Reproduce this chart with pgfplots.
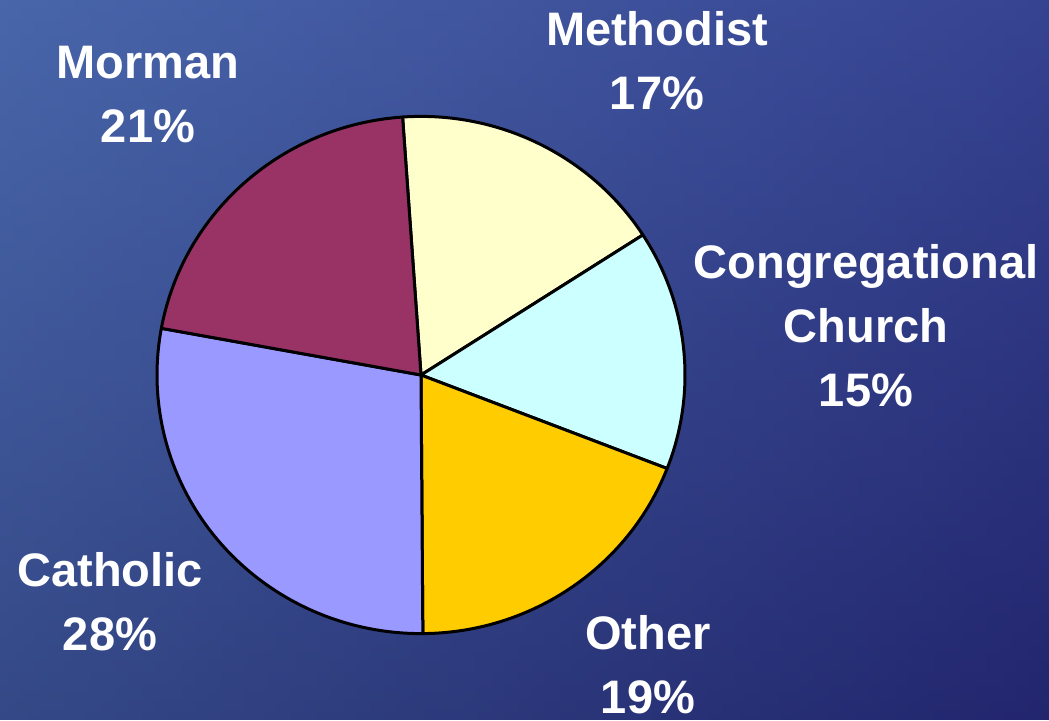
\documentclass[border=0pt]{standalone}
\usepackage{pgfplots}
\pgfplotsset{compat=1.18}
\usepackage{fontspec}
\setmainfont{Liberation Sans}

\definecolor{methodist}{HTML}{FFFFCC}
\definecolor{congr}{HTML}{CCFFFF}
\definecolor{other}{HTML}{FFCC00}
\definecolor{catholic}{HTML}{9999FF}
\definecolor{morman}{HTML}{993366}
\definecolor{bgtop}{HTML}{4458A6}
\definecolor{bgbot}{HTML}{1F2265}
\definecolor{bgleft}{HTML}{4F78B0}
\definecolor{bgright}{HTML}{262A78}

\begin{document}
\begin{tikzpicture}
  \begin{axis}[
    width=524.5pt, height=359.5pt, scale only axis,
    xmin=0, xmax=1049, ymin=0, ymax=719,
    hide axis, clip=false
  ]
    % background
    \shade[top color=bgtop, bottom color=bgbot] (axis cs:0,0) rectangle (axis cs:1049,719);
    \shade[left color=bgleft, right color=bgright, opacity=0.45] (axis cs:0,0) rectangle (axis cs:1049,719);

    % slices, clockwise from 94 degrees (percent values)
    \xdef\a{94}
    \foreach \v/\c in {17/methodist, 15/congr, 19/other, 28/catholic, 21/morman} {
      \pgfmathsetmacro\b{\a-3.6*\v}
      \edef\cmd{\noexpand\filldraw[fill=\c, draw=black, line width=1.5pt, line join=round]
        (axis cs:421,344) -- ++(\a:132pt and 129.3pt)
        arc[start angle=\a, end angle=\b, x radius=132pt, y radius=129.3pt] -- cycle;}
      \cmd
      \xdef\a{\b}
    }

    \begin{scope}[every node/.style={text=white, font=\fontsize{23.5}{32}\selectfont\bfseries, align=center}]
      \node at (axis cs:657,658) {Methodist\\17\%};
      \node at (axis cs:148,624) {Morman\\21\%};
      \node at (axis cs:866,393) {Congregational\\Church\\15\%};
      \node at (axis cs:110,117) {Catholic\\28\%};
      \node at (axis cs:648,54) {Other\\19\%};
    \end{scope}
  \end{axis}
\end{tikzpicture}
\end{document}
